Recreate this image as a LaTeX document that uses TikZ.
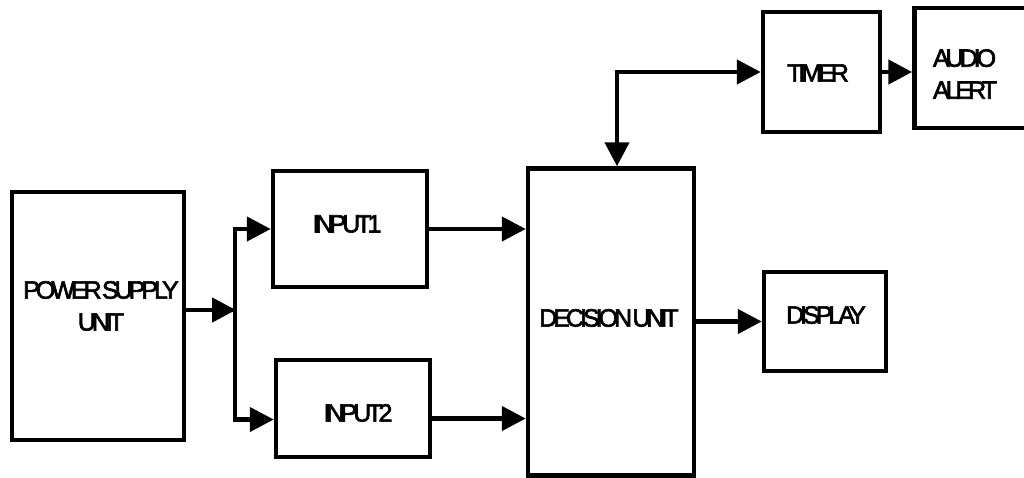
\documentclass[tikz,border=0pt]{standalone}
\usepackage{fontspec}
\setmainfont{Liberation Sans}[LetterSpace=-16,WordSpace=0.1,FakeBold=2.5]
\usetikzlibrary{arrows.meta,calc}
\begin{document}
\begin{tikzpicture}[x=1pt,y=-1pt,
  blk/.style={draw=black,line width=4.5pt,rectangle,inner sep=0pt},
  lbl/.style={align=center,inner sep=0pt,font=\fontsize{25}{32}\selectfont},
  conn/.style={line width=4.5pt,-{Triangle[length=24pt,width=24pt]}},
  conn2/.style={line width=4.5pt,{Triangle[length=24pt,width=24pt]}-{Triangle[length=24pt,width=24pt]}}]
\useasboundingbox (0,0) rectangle (1024,477);
\clip (0,0) rectangle (1024,477);
\node[blk,minimum width=172pt,minimum height=248pt] (psu) at (98,316) {};
\node[lbl] (psut) at (101,306) {POWER SUPPLY\\UNIT};
\node[blk,minimum width=154pt,minimum height=116pt] (in1) at (350,229) {};
\node[lbl] (in1t) at (347,224) {INPUT1};
\node[blk,minimum width=154pt,minimum height=97pt] (in2) at (353,408.5) {};
\node[lbl] (in2t) at (358,413) {INPUT2};
\node[blk,minimum width=166pt,minimum height=307pt] (dec) at (611,322) {};
\node[lbl] (dect) at (609,318) {DECISION UNIT};
\node[blk,minimum width=117pt,minimum height=120pt] (timer) at (821.5,72) {};
\node[lbl] (timert) at (818,73) {TIMER};
\node[blk,minimum width=115pt,minimum height=120pt] (audio) at (972,68) {};
\node[lbl,align=left] (audiot) at (965,74) {AUDIO\\ALERT};
\node[blk,minimum width=122pt,minimum height=99pt] (disp) at (825,321.5) {};
\node[lbl] (dispt) at (826,315) {DISPLAY};
\coordinate (j) at (235,310);
\coordinate (tk) at (617,72);
\draw[line width=4.5pt] (psu.east|-j) -- (j);
\draw[conn] (psu.east|-j) -- ($(j)+(1,0)$);
\draw[line width=4.5pt] (j|-in1.west) -- (j|-in2.west);
\draw[conn] (j) |- (in1.west);
\draw[conn] (j) |- ($(in2.west)+(0,11)$);
\draw[conn] (in1.east) -- (in1.east-|dec.west);
\draw[conn] ($(in2.east)+(0,10)$) -- ($(in2.east-|dec.west)+(0,10)$);
\draw[conn] (dec.east|-disp.west) -- (disp.west);
\draw[conn2] (tk|-dec.north) -- (tk) -- (timer.west);
\draw[conn] (timer.east) -- (audio.west|-timer.east);
\end{tikzpicture}
\end{document}
